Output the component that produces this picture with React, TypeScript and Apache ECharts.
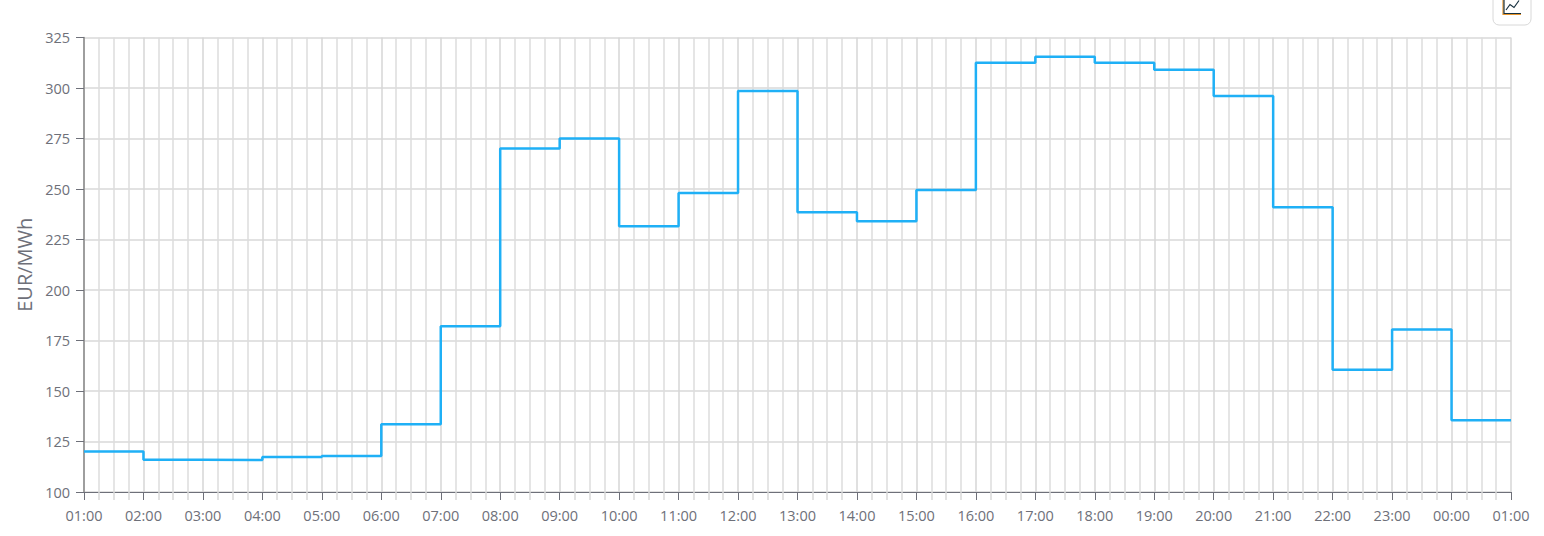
import React, { useEffect, useRef } from "react";
import * as echarts from "echarts";

const hourLabels = ["01:00","02:00","03:00","04:00","05:00","06:00","07:00","08:00","09:00","10:00","11:00","12:00","13:00","14:00","15:00","16:00","17:00","18:00","19:00","20:00","21:00","22:00","23:00","00:00","01:00"];
const prices = [120,116,115.8,117.3,117.8,133.5,182,270,275,231.5,248,298.5,238.5,234,249.5,312.5,315.5,312.5,309,296,241,160.5,180.5,135.5,135.5];
const yName = "EUR/MWh";
const font = "'Open Sans', sans-serif";

export default function App() {
  const ref = useRef<HTMLDivElement>(null);
  useEffect(() => {
    const chart = echarts.init(ref.current!, null, { renderer: "svg" });
    chart.setOption({
      animation: false,
      grid: { left: 84, right: 33, top: 37.5, bottom: 44 },
      xAxis: {
        type: "value", min: 0, max: 24, interval: 1,
        axisLine: { lineStyle: { color: "#6e7079", width: 1 } },
        axisTick: { length: 8, lineStyle: { color: "#6e7079" } },
        minorTick: { show: true, splitNumber: 4, length: 8, lineStyle: { color: "#d9d9d9", width: 1.5 } },
        splitLine: { show: true, lineStyle: { color: "#d6d6d6", width: 1.5 } },
        minorSplitLine: { show: true, lineStyle: { color: "#dddddd", width: 1.5 } },
        axisLabel: { color: "#6e7079", fontFamily: font, fontSize: 14.5, margin: 16, formatter: (v: number) => hourLabels[v] ?? "", hideOverlap: false },
      },
      yAxis: {
        type: "value", min: 100, max: 325, interval: 25,
        name: yName, nameLocation: "middle", nameGap: 50,
        nameTextStyle: { color: "#6e7079", fontFamily: font, fontSize: 20 },
        axisLine: { show: true, lineStyle: { color: "#888888", width: 1.5 } },
        axisTick: { show: true, length: 8, lineStyle: { color: "#6e7079" } },
        splitLine: { show: true, lineStyle: { color: "#d9d9d9", width: 1.5 } },
        axisLabel: { color: "#6e7079", fontFamily: font, fontSize: 14.5, margin: 14 },
      },
      series: [{
        type: "line", step: "end", symbol: "none",
        data: prices.map((p, i) => [i, p]),
        lineStyle: { color: "#1fb0f6", width: 2.5 },
      }],
      graphic: [
        { type: "rect", shape: { x: 1493, y: -12, width: 38, height: 37, r: 6 }, style: { fill: "#fff", stroke: "#d8d8d8", lineWidth: 1 } },
        { type: "polyline", shape: { points: [[1503, -2], [1503, 14.5], [1521, 14.5]] }, style: { fill: "none", stroke: "#e8952b", lineWidth: 1.2 } },
        { type: "polyline", shape: { points: [[1504, -2], [1504, 13.5], [1521, 13.5]] }, style: { fill: "none", stroke: "#16303f", lineWidth: 1.2 } },
        { type: "polyline", shape: { points: [[1506, 10], [1510, 4.5], [1514, 7.5], [1519, 0.5]] }, style: { fill: "none", stroke: "#16303f", lineWidth: 1.2 } },
      ],
    });
    return () => chart.dispose();
  }, []);
  return <div ref={ref} style={{ position: "absolute", left: 0, top: 0, width: 1544, height: 536 }} />;
}
